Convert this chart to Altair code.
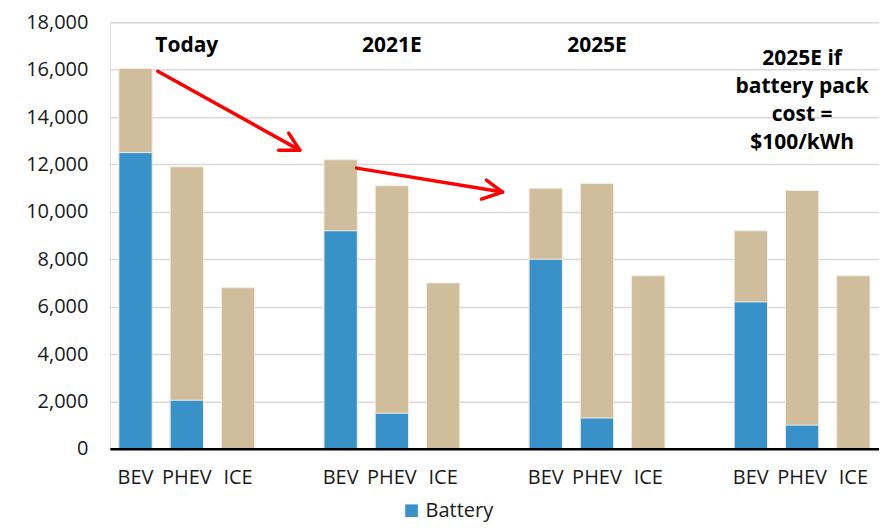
import altair as alt
import pandas as pd

groups = ["Today", "2021E", "2025E", "2025E if\nbattery pack\ncost =\n$100/kWh"]
vehicles = ["BEV", "PHEV", "ICE"]
battery_cost = [[12500, 2050, 0], [9200, 1500, 0], [8000, 1300, 0], [6200, 1000, 0]]
total_cost = [[16050, 11900, 6800], [12200, 11100, 7000], [11000, 11200, 7300], [9200, 10900, 7300]]
y_ticks = list(range(0, 18001, 2000))

BLUE = "#3891c9"
TAN = "#d0bd9b"
FONT = "Open Sans"

rows = []
domain = []
for gi, g in enumerate(groups):
    for vi, v in enumerate(vehicles):
        key = f"{gi}|{v}"
        domain.append(key)
        rows.append(dict(slot=key, group=g, vehicle=v,
                         battery=battery_cost[gi][vi], total=total_cost[gi][vi],
                         series="Battery"))
    if gi < len(groups) - 1:
        domain.append(f"gap{gi}")
df = pd.DataFrame(rows)
titles = pd.DataFrame({"slot": [f"{i}|PHEV" for i in range(len(groups))], "label": groups})

xscale = alt.Scale(domain=domain, paddingInner=0.35, paddingOuter=0.175)
yscale = alt.Scale(domain=[0, 18000])

xaxis = alt.Axis(title=None, labelExpr="indexof(datum.value,'|') >= 0 ? split(datum.value,'|')[1] : ''",
                 labelAngle=0, ticks=False, domainColor="black", domainWidth=2.5,
                 labelFontSize=20, labelPadding=19, labelColor="#1a1a1a", labelFont=FONT, zindex=1)
yaxis = alt.Axis(title=None, values=y_ticks, format=",.0f", domain=False, ticks=False,
                 gridColor="#d9d9d9", gridWidth=1.5, labelFontSize=20, labelPadding=22,
                 labelColor="#1a1a1a", labelFont=FONT)

tan = alt.Chart(df).mark_bar(color=TAN, stroke="#f3eee4", strokeWidth=1).encode(
    x=alt.X("slot:N", scale=xscale, axis=xaxis),
    y=alt.Y("total:Q", scale=yscale, axis=yaxis),
)

blue = alt.Chart(df).transform_filter("datum.battery > 0").mark_bar(stroke="#f3eee4", strokeWidth=1).encode(
    x=alt.X("slot:N", scale=xscale),
    y=alt.Y("battery:Q", scale=yscale),
    color=alt.Color("series:N", scale=alt.Scale(domain=["Battery"], range=[BLUE]),
                    legend=alt.Legend(title=None, orient="none", legendX=292, legendY=479,
                                      symbolType="square", symbolSize=160, symbolStrokeWidth=0,
                                      labelFontSize=20, labelFont=FONT, labelColor="#1a1a1a")),
)

title_single = alt.Chart(titles.iloc[:3]).mark_text(
    fontSize=21, fontWeight="bold", font=FONT, baseline="middle", color="black"
).encode(x=alt.X("slot:N", scale=xscale), y=alt.value(24), text="label:N")

title_multi = alt.Chart(titles.iloc[3:]).mark_text(
    fontSize=21, fontWeight="bold", font=FONT, baseline="middle", color="black",
    lineBreak="\n", lineHeight=28
).encode(x=alt.X("slot:N", scale=xscale), y=alt.value(37), text="label:N")

one = pd.DataFrame({"a": [0]})
OX, OY = 110, 22
segments = [
    ((158, 71), (300, 150)), ((300, 150), (279, 150)), ((300, 150), (289, 133)),
    ((357, 168), (503, 192)), ((503, 192), (482, 199)), ((503, 192), (487, 180)),
]
arrows = []
for (x1, y1), (x2, y2) in segments:
    arrows.append(alt.Chart(one).mark_rule(color="#ff0000", strokeWidth=3.5, strokeCap="round").encode(
        x=alt.value(x1 - OX), y=alt.value(y1 - OY), x2=alt.value(x2 - OX), y2=alt.value(y2 - OY)))

chart = alt.layer(tan, blue, title_single, title_multi, *arrows).properties(
    width=770, height=427,
    autosize=alt.AutoSizeParams(type="none"),
    padding={"left": 102, "top": 14, "right": 0, "bottom": 74},
).configure_view(stroke=None).configure(font=FONT)

chart.save("out.html", embed_options={"renderer": "svg", "actions": False})
